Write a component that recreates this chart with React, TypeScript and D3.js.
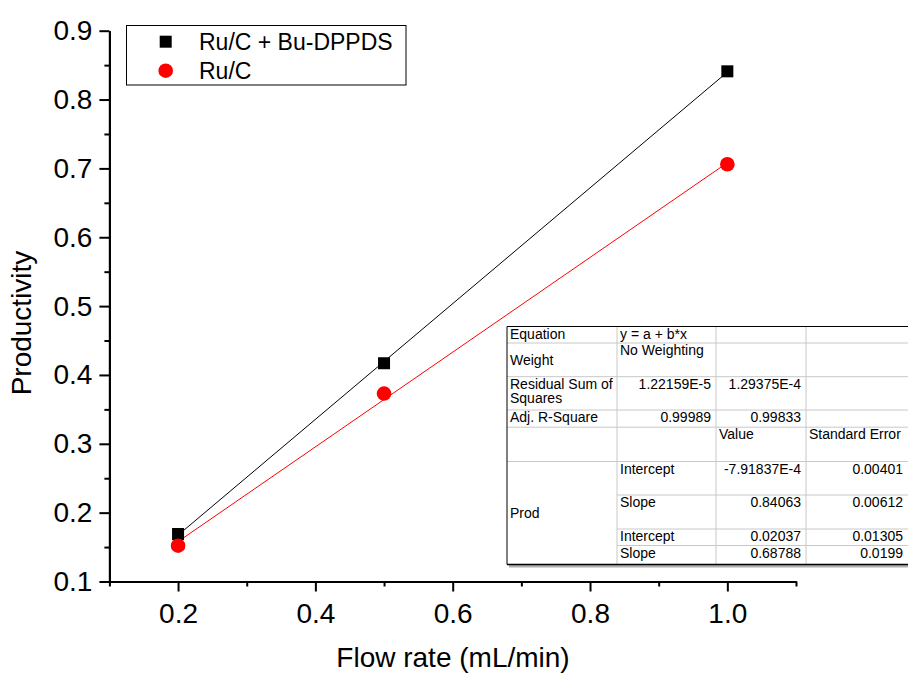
import React, { useEffect, useRef } from "react";
import { select, scaleLinear, axisBottom, axisLeft, line, format } from "d3";

// data
const flowRate = [0.2, 0.5, 1.0];
const ligandProd = [0.169, 0.417, 0.841];
const plainProd = [0.152, 0.373, 0.706];

// linear fits (from the fit table)
const fitIntercepts = [-7.91837e-4, 0.02037];
const fitSlopes = [0.84063, 0.68788];
const fitErrors = ["0.00401", "0.00612", "0.01305", "0.0199"];

const seriesNames = ["Ru/C + Bu-DPPDS", "Ru/C"];
const xMajorTicks = [0.2, 0.4, 0.6, 0.8, 1.0];
const xMinorTicks = [0.1, 0.3, 0.5, 0.7, 0.9, 1.1];
const yMajorTicks = [0.1, 0.2, 0.3, 0.4, 0.5, 0.6, 0.7, 0.8, 0.9];
const yMinorTicks = [0.15, 0.25, 0.35, 0.45, 0.55, 0.65, 0.75, 0.85];

const FONT = "'Liberation Sans', Arial, Helvetica, sans-serif";

function App() {
  const svgRef = useRef<SVGSVGElement>(null);

  const x = scaleLinear().domain([0.1, 1.1]).range([109.4, 796]);
  const y = scaleLinear().domain([0.1, 0.9]).range([581.5, 30.7]);

  useEffect(() => {
    const svg = select(svgRef.current);

    const xMinor = axisBottom(x)
      .tickValues(xMinorTicks)
      .tickSize(5)
      .tickSizeOuter(0)
      .tickFormat(() => "");
    const xMajor = axisBottom(x)
      .tickValues(xMajorTicks)
      .tickSize(10)
      .tickSizeOuter(0)
      .tickPadding(12)
      .tickFormat(format(".1f"));
    const yMinor = axisLeft(y)
      .tickValues(yMinorTicks)
      .tickSize(5)
      .tickSizeOuter(0)
      .tickFormat(() => "");
    const yMajor = axisLeft(y)
      .tickValues(yMajorTicks)
      .tickSize(10)
      .tickSizeOuter(0)
      .tickPadding(7)
      .tickFormat(format(".1f"));

    const bottom = y.range()[0];
    const left = x.range()[0];
    svg.select<SVGGElement>(".x-minor").attr("transform", `translate(0,${bottom})`).call(xMinor);
    svg.select<SVGGElement>(".x-major").attr("transform", `translate(0,${bottom})`).call(xMajor);
    svg.select<SVGGElement>(".y-minor").attr("transform", `translate(${left},0)`).call(yMinor);
    svg.select<SVGGElement>(".y-major").attr("transform", `translate(${left},0)`).call(yMajor);

    svg.selectAll(".axis path").attr("stroke-width", 2);
    svg.selectAll(".axis line").attr("stroke-width", 2);
    svg
      .selectAll(".axis")
      .attr("font-family", FONT)
      .attr("font-size", 28);
    svg.selectAll(".axis text").attr("fill", "#000");
  }, []);

  const fitLine = line<number>()
    .x((d) => x(d))
    .y((d, i) => 0);

  const fitPath = (k: number) =>
    line<number>()
      .x((d) => x(d))
      .y((d) => y(fitIntercepts[k] + fitSlopes[k] * d))([0.2, 1.0]) || "";

  // table layout
  const cx = [507, 617, 716, 806, 908];
  const ry = [326.5, 343, 376.7, 410, 427.2, 461.5, 495, 529, 545.5, 564.5];
  const grey = "#c8c8c8";
  const fs = 14;
  const tl = (col: number, row: number, s: string, dy = 12) => (
    <text x={cx[col] + 3} y={ry[row] + dy} fontSize={fs}>{s}</text>
  );
  const tr = (col: number, row: number, s: string) => (
    <text x={cx[col + 1] - 5} y={ry[row] + 12} fontSize={fs} textAnchor="end">{s}</text>
  );
  const fmtVal = (v: number) => (Math.abs(v) < 1e-3 ? v.toExponential(5).replace("e", "E") : String(v));

  return (
    <svg
      ref={svgRef}
      width={908}
      height={675}
      style={{ position: "absolute", left: 0, top: 0, background: "#fff" }}
      fontFamily={FONT}
    >
      <rect width={908} height={675} fill="#fff" />

      {/* fit lines */}
      <path d={fitPath(0)} stroke="#000" strokeWidth={1} fill="none" />
      <path d={fitPath(1)} stroke="#ff0000" strokeWidth={1} fill="none" />

      {/* points */}
      {flowRate.map((f, i) => (
        <rect key={"s" + i} x={x(f) - 6} y={y(ligandProd[i]) - 6} width={12} height={12} fill="#000" />
      ))}
      {flowRate.map((f, i) => (
        <circle key={"c" + i} cx={x(f)} cy={y(plainProd[i])} r={7.3} fill="#ff0000" />
      ))}

      <g className="axis x-minor" />
      <g className="axis x-major" />
      <g className="axis y-minor" />
      <g className="axis y-major" />

      {/* axis titles */}
      <text x={453} y={667} fontSize={28} textAnchor="middle">Flow rate (mL/min)</text>
      <text transform="translate(31,323) rotate(-90)" fontSize={28} textAnchor="middle">Productivity</text>

      {/* legend */}
      <rect x={126.5} y={25.5} width={279.5} height={59.5} fill="#fff" stroke="#000" strokeWidth={1} />
      <rect x={159.7} y={35.7} width={12} height={12} fill="#000" />
      <circle cx={165.7} cy={70.7} r={7.3} fill="#ff0000" />
      <text x={199} y={50} fontSize={23}>{seriesNames[0]}</text>
      <text x={199} y={79} fontSize={23}>{seriesNames[1]}</text>

      {/* fit results table */}
      <g>
        <rect x={cx[0] + 2} y={ry[9]} width={908 - cx[0]} height={3} fill="#b0b0b0" />
        <rect x={cx[0]} y={ry[0]} width={908 - cx[0]} height={ry[9] - ry[0]} fill="#fff" />
        {ry.slice(1, 6).map((v, i) => (
          <line key={"h" + i} x1={cx[0]} x2={908} y1={v} y2={v} stroke={grey} />
        ))}
        {ry.slice(6, 9).map((v, i) => (
          <line key={"hh" + i} x1={cx[1]} x2={908} y1={v} y2={v} stroke={grey} />
        ))}
        {cx.slice(1, 4).map((v, i) => (
          <line key={"v" + i} x1={v} x2={v} y1={ry[0]} y2={ry[9]} stroke={grey} />
        ))}
        <line x1={cx[0]} x2={908} y1={ry[0]} y2={ry[0]} stroke="#000" />
        <line x1={cx[0]} x2={cx[0]} y1={ry[0]} y2={ry[9]} stroke="#000" />
        <line x1={cx[0]} x2={908} y1={ry[9]} y2={ry[9]} stroke="#000" strokeWidth={1.5} />

        {tl(0, 0, "Equation")}
        {tl(1, 0, "y = a + b*x")}
        <text x={cx[0] + 3} y={(ry[1] + ry[2]) / 2 + 5} fontSize={fs}>Weight</text>
        {tl(1, 1, "No Weighting")}
        {tl(0, 2, "Residual Sum of")}
        {tl(0, 2, "Squares", 26.5)}
        {tr(1, 2, "1.22159E-5")}
        {tr(2, 2, "1.29375E-4")}
        {tl(0, 3, "Adj. R-Square")}
        {tr(1, 3, "0.99989")}
        {tr(2, 3, "0.99833")}
        {tl(2, 4, "Value")}
        {tl(3, 4, "Standard Error")}
        <text x={cx[0] + 3} y={(ry[5] + ry[9]) / 2 + 5} fontSize={fs}>Prod</text>
        {tl(1, 5, "Intercept")}
        {tl(1, 6, "Slope")}
        {tl(1, 7, "Intercept")}
        {tl(1, 8, "Slope")}
        {tr(2, 5, fmtVal(fitIntercepts[0]))}
        {tr(2, 6, fmtVal(fitSlopes[0]))}
        {tr(2, 7, fmtVal(fitIntercepts[1]))}
        {tr(2, 8, fmtVal(fitSlopes[1]))}
        {fitErrors.map((e, i) => (
          <React.Fragment key={"e" + i}>{tr(3, 5 + i, e)}</React.Fragment>
        ))}
      </g>
    </svg>
  );
}

export default App;
